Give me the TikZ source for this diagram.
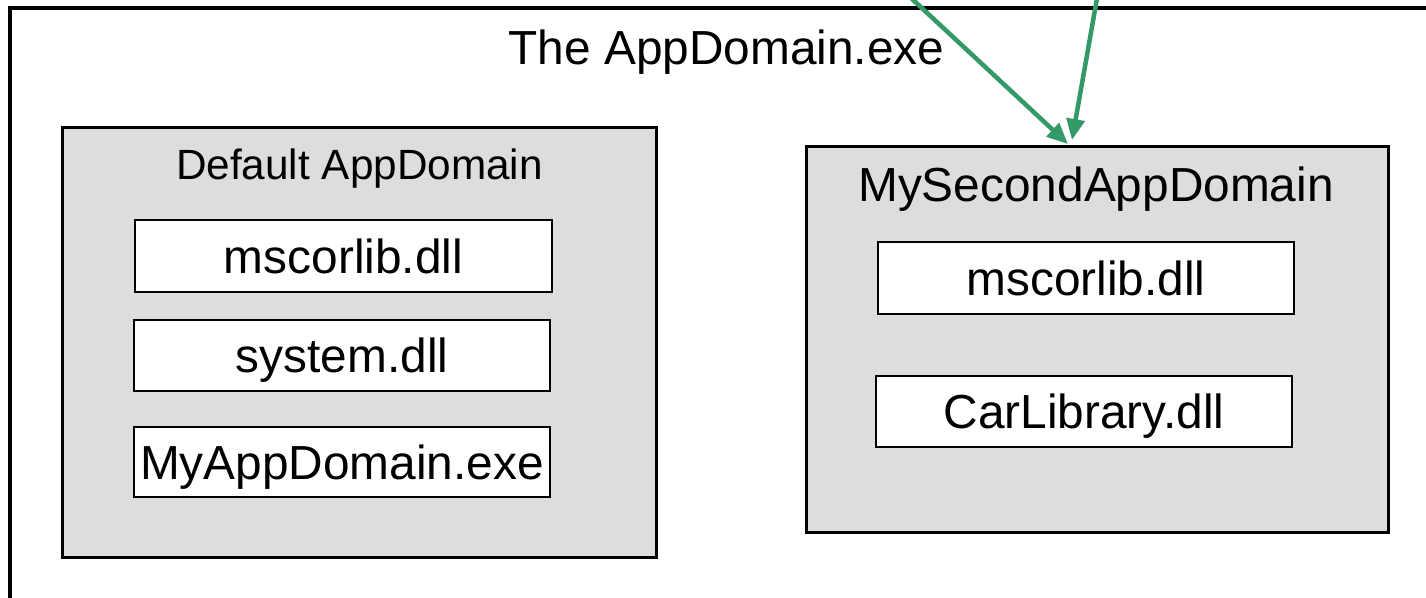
\documentclass[tikz,border=0pt]{standalone}
\usepackage{fontspec}
\setmainfont{Liberation Sans}
\usetikzlibrary{arrows.meta}
\definecolor{domgray}{RGB}{221,221,221}
\definecolor{linkgreen}{RGB}{51,153,102}
\tikzset{
  domainbox/.style={draw=black, line width=3pt, fill=domgray, rectangle,
    inner sep=0pt},
  asmbox/.style={draw=black, line width=2.6pt, fill=white, rectangle,
    inner sep=0pt, font=\fontsize{47.8}{50}\selectfont,
    text height=34.4pt, text depth=0pt},
  bigtext/.style={inner sep=0pt, anchor=base, font=\fontsize{47.8}{50}\selectfont},
  midtext/.style={inner sep=0pt, anchor=base, font=\fontsize{42.3}{45}\selectfont},
  link/.style={draw=linkgreen, line width=4.5pt,
    -{Triangle[length=21pt,width=18pt]}}
}
\begin{document}
\begin{tikzpicture}[x={(1pt,0)}, y={(0,-1pt)}]
  \clip (0,0) rectangle (1426,597);
  \fill[white] (0,0) rectangle (1426,597);

  % process frame (runs past the right and bottom edges)
  \draw[line width=3.5pt] (10,8) rectangle (1460,640);
  \node[bigtext] (proc) at (726.5,64) {The AppDomain.exe};

  % default application domain
  \node[domainbox, minimum width=594pt, minimum height=430pt] (dflt) at (359,342) {};
  \node[midtext] (dflttitle) at (359.5,179) {Default AppDomain};
  \node[asmbox, minimum width=417pt, minimum height=72pt] (ms1) at (343.5,256) {mscorlib.dll};
  \node[asmbox, minimum width=416pt, minimum height=71pt] (sys) at (342,355.5) {system.dll};
  \node[asmbox, minimum width=416pt, minimum height=70pt] (mya) at (342,462) {MyAppDomain.exe};

  % second application domain
  \node[domainbox, minimum width=582pt, minimum height=386pt] (sec) at (1097,339) {};
  \node[bigtext] (sectitle) at (1096,201) {MySecondAppDomain};
  \node[asmbox, minimum width=416pt, minimum height=72pt] (ms2) at (1086,278) {mscorlib.dll};
  \node[asmbox, minimum width=416pt, minimum height=71pt] (car) at (1084,411.5) {CarLibrary.dll};

  % incoming links
  \coordinate (src1) at (881,-30);
  \coordinate (src2) at (1102,-30);
  \coordinate (dst1) at (1068,144);
  \coordinate (dst2) at (1072,140);
  \draw[link] (src1) -- (dst1);
  \draw[link] (src2) -- (dst2);
\end{tikzpicture}
\end{document}
